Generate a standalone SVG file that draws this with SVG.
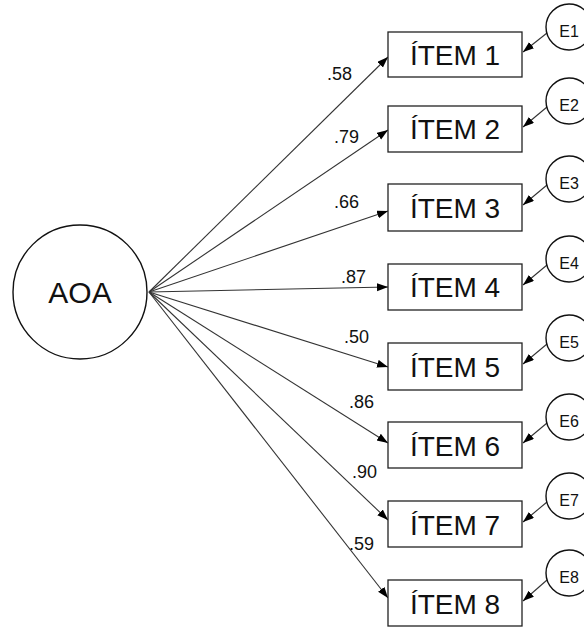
<svg xmlns="http://www.w3.org/2000/svg" width="584" height="628" viewBox="0 0 584 628">
<defs>
<marker id="ah" markerUnits="userSpaceOnUse" markerWidth="12" markerHeight="9" refX="11" refY="4" orient="auto">
<path d="M0,0 L11,4 L0,8 z" fill="#000"/>
</marker>
<style>
.box{fill:#fff;stroke:#222;stroke-width:1.3}
.circ{fill:#fff;stroke:#111;stroke-width:1.4}
.item{font-family:"Liberation Sans",Arial,sans-serif;font-size:28px;fill:#111;text-anchor:middle}
.e{font-family:"Liberation Sans",Arial,sans-serif;font-size:16px;fill:#111;text-anchor:middle}
.lbl{font-family:"Liberation Sans",Arial,sans-serif;font-size:18px;fill:#111}
.ln{stroke:#333;stroke-width:1.1;fill:none;marker-end:url(#ah)}
</style>
</defs>
<rect width="584" height="628" fill="#fff"/>
<g id="connectors">
<line class="ln" x1="149" y1="292" x2="388" y2="57"/>
<line class="ln" x1="149" y1="292" x2="388" y2="130"/>
<line class="ln" x1="149" y1="292" x2="388" y2="211"/>
<line class="ln" x1="149" y1="292" x2="388" y2="287"/>
<line class="ln" x1="149" y1="292" x2="388" y2="367"/>
<line class="ln" x1="149" y1="292" x2="388" y2="443"/>
<line class="ln" x1="149" y1="292" x2="388" y2="520"/>
<line class="ln" x1="149" y1="292" x2="388" y2="598"/>
<line class="ln" x1="547" y1="33" x2="523" y2="52"/>
<line class="ln" x1="547" y1="107" x2="523" y2="127"/>
<line class="ln" x1="547" y1="185" x2="523" y2="205"/>
<line class="ln" x1="547" y1="265" x2="523" y2="285"/>
<line class="ln" x1="547" y1="344" x2="523" y2="364"/>
<line class="ln" x1="547" y1="423" x2="523" y2="443"/>
<line class="ln" x1="547" y1="502" x2="523" y2="522"/>
<line class="ln" x1="547" y1="580" x2="523" y2="601"/>
</g>
<g id="labels">
<text class="lbl" x="327" y="80">.58</text>
<text class="lbl" x="334" y="143">.79</text>
<text class="lbl" x="334" y="208">.66</text>
<text class="lbl" x="341" y="283">.87</text>
<text class="lbl" x="344" y="343">.50</text>
<text class="lbl" x="349" y="408">.86</text>
<text class="lbl" x="352" y="478">.90</text>
<text class="lbl" x="349" y="550">.59</text>
</g>
<g id="AOA">
<circle class="circ" cx="80" cy="292" r="67"/>
<text x="80" y="303" font-family="Liberation Sans,Arial,sans-serif" font-size="30" fill="#111" text-anchor="middle">AOA</text>
</g>
<g id="item1"><rect class="box" x="388" y="32" width="134" height="45"/><text class="item" x="455" y="65">ÍTEM 1</text></g>
<g id="item2"><rect class="box" x="388" y="106" width="134" height="46"/><text class="item" x="455" y="139">ÍTEM 2</text></g>
<g id="item3"><rect class="box" x="388" y="184" width="134" height="47"/><text class="item" x="455" y="218">ÍTEM 3</text></g>
<g id="item4"><rect class="box" x="388" y="264" width="134" height="46"/><text class="item" x="455" y="297">ÍTEM 4</text></g>
<g id="item5"><rect class="box" x="388" y="343" width="134" height="47"/><text class="item" x="455" y="377">ÍTEM 5</text></g>
<g id="item6"><rect class="box" x="388" y="422" width="134" height="46"/><text class="item" x="455" y="456">ÍTEM 6</text></g>
<g id="item7"><rect class="box" x="388" y="501" width="134" height="46"/><text class="item" x="455" y="535">ÍTEM 7</text></g>
<g id="item8"><rect class="box" x="388" y="580" width="134" height="46"/><text class="item" x="455" y="614">ÍTEM 8</text></g>
<g id="E1"><circle class="circ" cx="569" cy="27" r="23"/><text class="e" x="569" y="37">E1</text></g>
<g id="E2"><circle class="circ" cx="569" cy="101" r="23"/><text class="e" x="569" y="111">E2</text></g>
<g id="E3"><circle class="circ" cx="569" cy="179" r="23"/><text class="e" x="569" y="189">E3</text></g>
<g id="E4"><circle class="circ" cx="569" cy="259" r="23"/><text class="e" x="569" y="269">E4</text></g>
<g id="E5"><circle class="circ" cx="569" cy="338" r="23"/><text class="e" x="569" y="348">E5</text></g>
<g id="E6"><circle class="circ" cx="569" cy="417" r="23"/><text class="e" x="569" y="427">E6</text></g>
<g id="E7"><circle class="circ" cx="569" cy="496" r="23"/><text class="e" x="569" y="506">E7</text></g>
<g id="E8"><circle class="circ" cx="569" cy="573" r="23"/><text class="e" x="569" y="583">E8</text></g>
</svg>
